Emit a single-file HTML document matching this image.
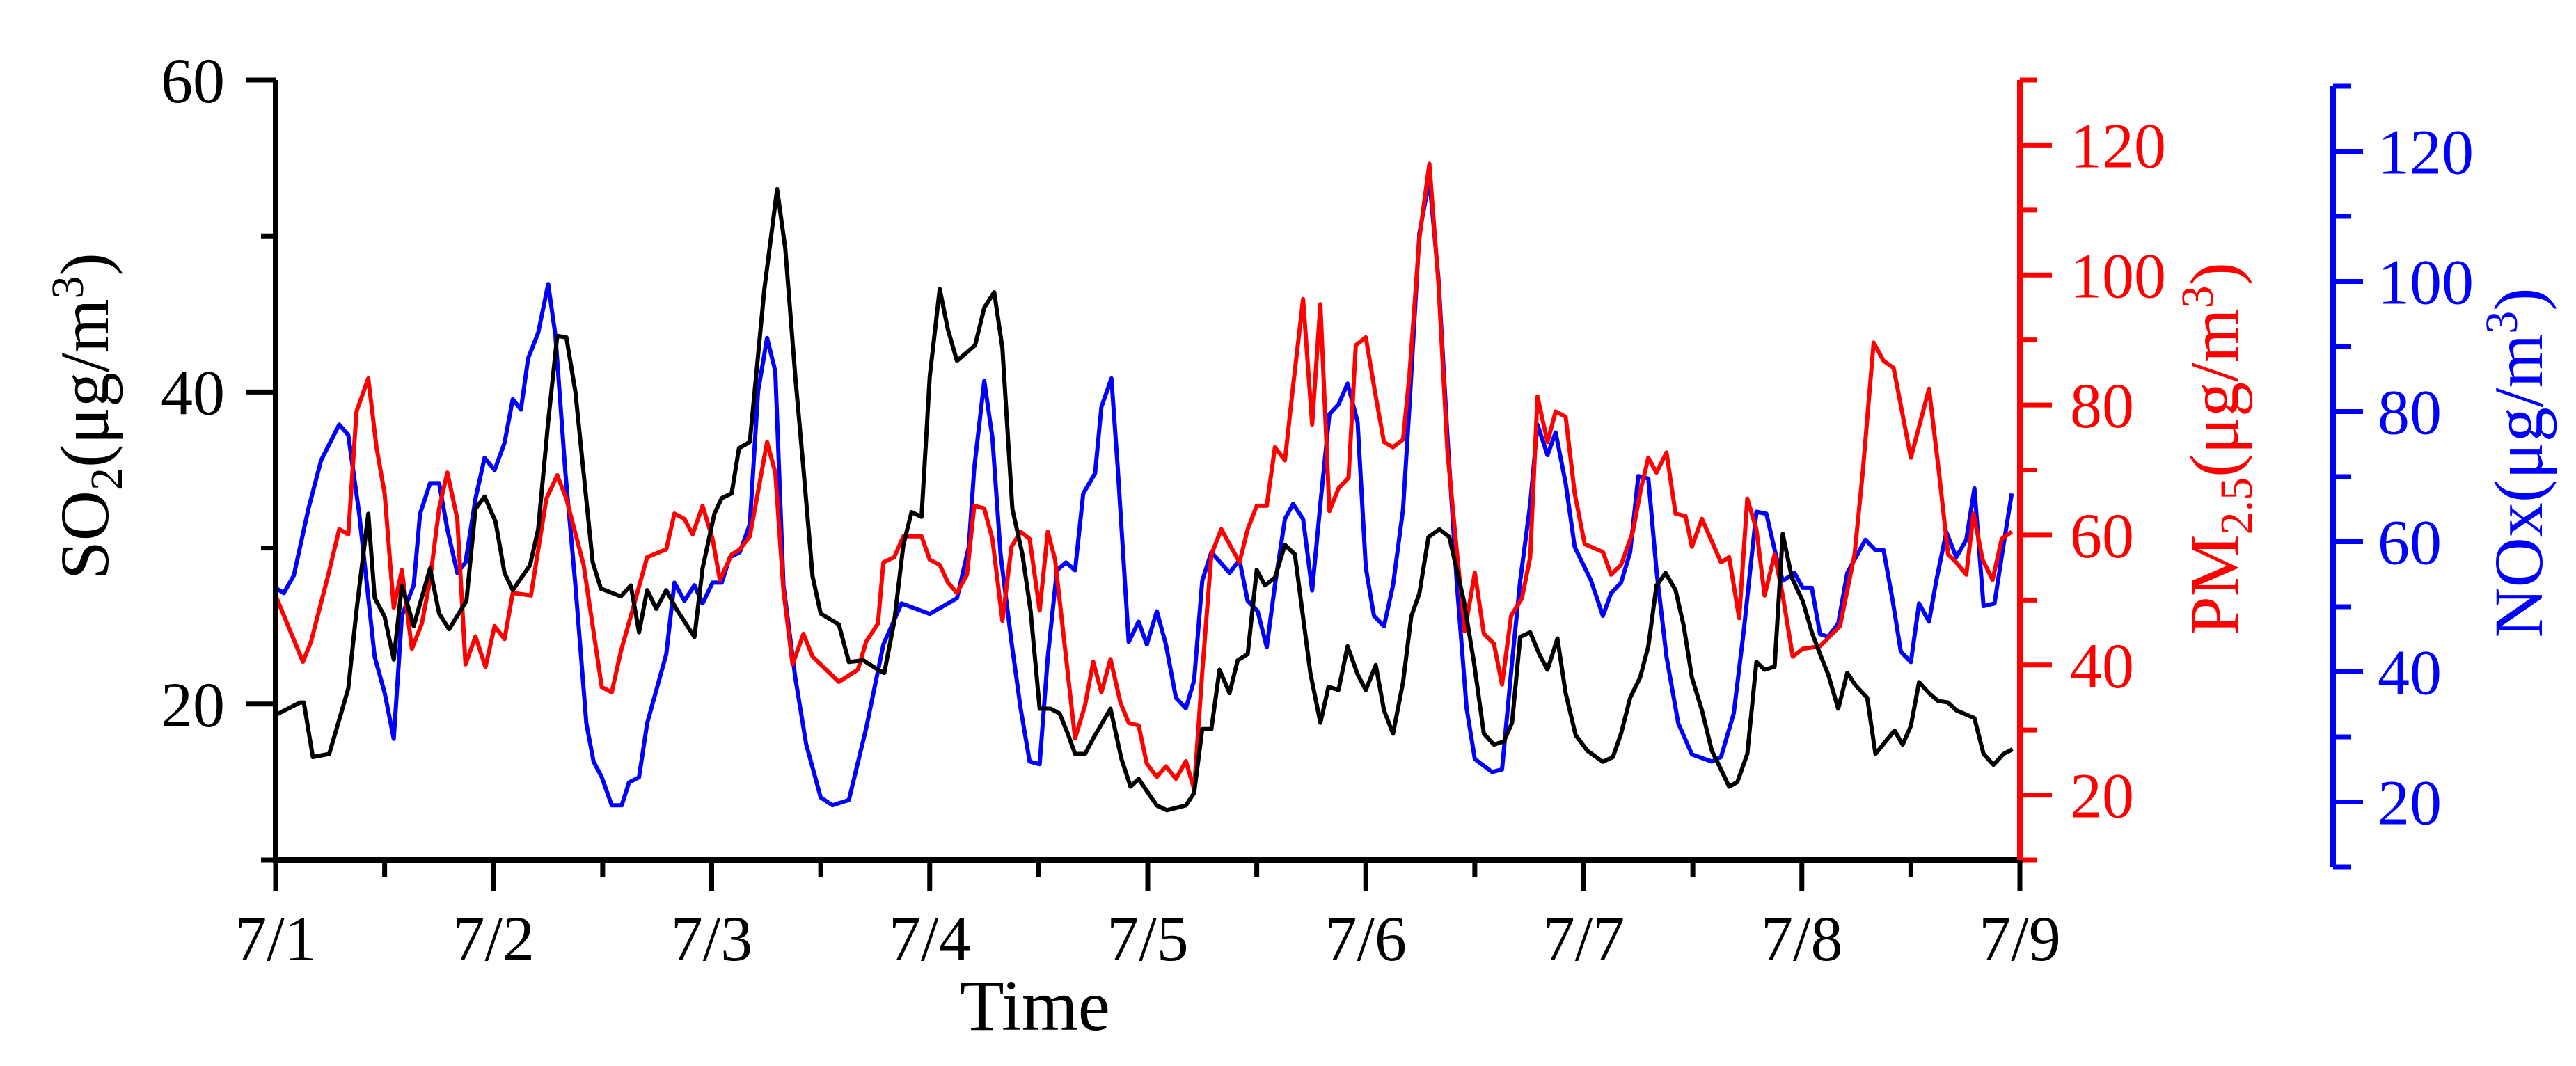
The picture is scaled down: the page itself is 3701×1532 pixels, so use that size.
<!DOCTYPE html>
<html><head><meta charset="utf-8"><style>
html,body{margin:0;padding:0;background:#fff}
svg{display:block}
text{font-family:"Liberation Serif",serif}
</style></head><body>
<svg id="chart" width="3701" height="1532" viewBox="0 0 3701 1532" xmlns="http://www.w3.org/2000/svg">
<rect x="0" y="0" width="3701" height="1532" fill="#fff"/>
<g id="plot"></g>
<g id="axes"></g>
<text transform="translate(155,598) rotate(-90)" text-anchor="middle" font-size="100" fill="#000">SO<tspan font-size="66" dy="20">2</tspan><tspan dy="-20">(μg/m</tspan><tspan font-size="66" dy="-36">3</tspan><tspan dy="36">)</tspan></text>
<text transform="translate(3215,645) rotate(-90)" text-anchor="middle" font-size="100" fill="#ff0000">PM<tspan font-size="66" dy="20">2.5</tspan><tspan dy="-20">(μg/m</tspan><tspan font-size="66" dy="-36">3</tspan><tspan dy="36">)</tspan></text>
<text transform="translate(3652,665) rotate(-90)" text-anchor="middle" font-size="100" fill="#0000ff">NOx(μg/m<tspan font-size="66" dy="-36">3</tspan><tspan dy="36">)</tspan></text>
<text x="1487" y="1480" text-anchor="middle" font-size="104" fill="#000">Time</text>
</svg>
<script>
const dayLabels = ["7/1","7/2","7/3","7/4","7/5","7/6","7/7","7/8","7/9"];
const so2Ticks = [20,40,60];
const pmTicks = [20,40,60,80,100,120];
const noxTicks = [20,40,60,80,100,120];

const so2Hours = [0,2.7,3.1,4.1,5.9,8,8.9,10.2,10.9,12,13,13.9,15.2,17,18,19.1,21,22,23,24.2,25.2,26.1,28,28.9,30,31,32,33,33.9,34.9,35.8,38,39.1,40,40.9,41.9,43,44.1,46.1,47,48.3,49.1,50.2,51,52.2,53.8,55.2,56.1,57.2,58.1,59.1,60,62,63.1,64.7,66.3,67,68.1,69.1,70,71.1,72,73.1,74,75,77,78,79.1,80,81.1,82.2,83.1,84.1,85.3,86.3,87.2,88,89.1,90,91.9,93.1,94.1,95,96.4,97,98.1,100.2,101.1,102,103,103.9,105,105.9,107,108,108.9,110,111.1,112.2,113,113.9,115,115.9,117,118,119.1,120,121.1,122,123,124.1,125,125.9,126.9,128.1,129.2,130.8,131.9,133,134.1,135.2,136.1,137,138.1,139.1,140,141.1,142,143.1,144.4,146.1,147.2,148.1,149.1,150.2,151.1,152,153,154.1,155,155.9,157,158.1,159.1,160,160.9,162,163,163.9,165,165.9,166.9,168.1,169.1,170,170.9,172,173,173.9,175.2,176.1,178.2,179.1,180,180.9,182,183,184.1,185,187,188,189.1,190.2,191.2];
const so2Values = [19.3,20.1,20.1,16.6,16.8,21.0,26.0,32.2,26.8,25.6,22.85,27.6,25.0,28.7,25.8,24.8,26.6,32.5,33.3,31.7,28.4,27.3,28.9,31.2,38.1,43.6,43.5,40.0,34.8,29.1,27.4,26.9,27.6,24.6,27.3,26.1,27.3,26.1,24.3,28.7,32.2,33.2,33.5,36.4,36.8,46.6,53.0,49.2,41.0,35.1,28.2,25.8,25.1,22.7,22.8,22.2,22.0,25.3,30.2,32.3,32.0,41.0,46.6,44.0,42.0,43.0,45.4,46.4,42.8,32.5,29.6,26.0,19.7,19.7,19.4,18.1,16.8,16.8,17.8,19.7,16.5,14.7,15.2,14.0,13.5,13.2,13.5,14.3,18.4,18.4,22.2,20.7,22.8,23.2,28.6,27.6,28.1,30.2,29.6,26.0,22.0,18.8,21.1,20.9,23.7,21.9,20.9,22.5,19.6,18.1,21.4,25.6,27.1,30.7,31.2,30.7,26.6,22.7,18.1,17.4,17.6,18.8,24.3,24.6,23.2,22.2,24.2,20.7,18.0,17.0,16.3,16.6,18.1,20.4,21.7,23.7,27.6,28.4,27.3,25.0,21.7,19.6,17.0,15.8,14.7,15.0,16.8,22.7,22.2,22.4,30.9,28.1,26.6,24.6,23.2,21.9,19.7,22.0,21.2,20.4,16.8,18.3,17.4,18.6,21.4,20.7,20.2,20.1,19.6,19.1,16.8,16.1,16.8,17.1];

const pmHours = [0,3,3.9,5.8,7,8,8.9,10.2,11.1,12,13,13.9,15,16.1,17,18,18.9,20,20.9,22,23.1,24.1,25.2,26.1,28.1,29.8,31,32,33.9,35.9,37,38,39.2,40.9,43,43.9,45,45.9,47,48.1,48.9,50.2,51.1,52.2,54.1,55,55.9,56.9,58.1,59.1,62,64.1,65,66.3,66.9,68.1,69.1,71.1,72,73.1,74,75,76.1,76.9,78,78.9,80,81,82,83,84.1,85,85.8,86.9,88,89.1,90,90.9,91.9,93,93.9,95,95.9,97,98,99.1,100.2,101.1,102,103,104.1,106.1,107,108,109.1,110,111.1,112,113.1,114.1,115,116,117,118.1,118.9,120,121.1,122,123,124.1,124.8,125.9,127,128,129,130,130.9,132,133,134.1,135,136,137.2,138.1,138.9,140,140.9,142,143,144.1,146.1,147,148.1,149.4,150.3,151.1,152,153.1,154.1,155.2,155.9,157,159.1,160,161.1,162,163,163.9,165,165.9,167,168.1,170,172.2,173.8,174.7,175.9,177,178.1,180,182,183.1,184.1,185,186.1,186.9,187.9,189,190,191.1];
const pmValues = [50.7,40.5,43.6,53.9,60.9,60.1,79,84.1,73.5,66.4,48.8,54.6,42.5,46.4,53.1,64.1,69.6,62.5,40.1,44.4,39.7,46.0,44.0,51.1,50.7,65.6,69.2,65.6,55.4,36.6,35.8,42.1,48.0,56.6,57.8,63.3,62.5,60.1,64.5,59.4,53.1,57.0,57.8,59.8,74.3,69.6,51.5,40.1,44.8,41.3,37.4,39.3,43.6,46.4,55.8,56.6,59.8,59.8,56.2,55.4,52.7,51.1,53.9,64.5,64.1,59.4,46.8,58.2,60.5,59.4,48.4,60.5,56.2,42.5,28.7,33.8,40.5,35.8,40.9,34.2,31.1,30.7,24.8,22.8,24.4,22.5,25.2,20.9,38.9,57.0,60.9,55.8,60.9,64.5,64.5,73.5,71.5,82.9,96.3,77.0,95.5,63.7,67.2,68.8,89.2,90.4,81.3,74.3,73.5,74.7,84.5,105.7,117.1,98.6,72.7,57.8,45.2,54.2,44.8,43.3,37.0,47.6,50.3,56.6,81.3,74.3,79.0,78.2,66.4,58.6,57.4,53.9,55.4,60.5,67.2,71.9,69.6,72.7,63.3,62.9,58.2,62.5,55.8,56.6,47.2,65.6,60.9,50.7,57.0,50.7,41.3,42.5,42.9,46.0,57.0,69.6,89.6,86.8,85.7,71.9,82.5,69.6,57.0,55.8,53.9,63.3,56.2,53.1,59.4,60.5];

const noxHours = [0,0.9,2,3.6,5,7,8,9.2,10.9,12,13,13.9,15.2,15.9,17,18,18.9,20,20.9,22,23,24.1,25.2,26.1,27,27.8,28.9,30,30.8,31.9,33,34.2,35,35.9,37,38.1,38.9,40,40.9,43,43.9,45,46.1,47,48.1,49.1,50,51.1,52.2,53.1,54.1,55,55.9,57.2,58.4,60,61.3,63.1,65,66.9,68.9,72,75,76.3,76.9,78,78.9,79.8,81,82,83,84.1,85,86,87,88,88.9,90.2,90.9,92,92.7,93.9,95,95.9,97,98,99.1,100.2,101.1,102,103,105,106.1,107,108.1,109.1,110,111.1,112,113.1,114.1,115,116,117,118,119.1,120,120.9,122,123,124.1,124.8,125.9,127,128,129,130,131.1,132,133.9,135,136.1,137,138.1,138.9,140,140.9,142,143,144.8,146.1,147,148.1,149.1,150,151.1,152,153.1,154.4,155.9,158.1,159.1,160.5,161.6,163,164.1,165.2,165.9,167.2,168.1,169.1,170,170.9,172,173,175,176.1,177,178,178.9,180,180.9,182,182.8,183.9,185,186.1,187,188,189.2,190.2,191.1];
const noxValues = [52.9,52.1,54.8,65.0,72.5,78.0,76.4,64.3,42.3,36.8,29.7,48.6,53.3,64.3,69.0,69.0,61.9,55.2,56.8,66.6,72.9,71.0,75.2,81.9,80.3,88.2,92.1,99.6,91.7,70.5,53.3,32.1,26.2,23.8,19.5,19.5,23.0,23.8,32.1,42.7,53.7,50.9,53.3,50.5,53.7,53.7,57.6,58.4,62.7,83.1,91.3,86.2,53.3,39.1,28.9,20.7,19.5,20.3,31.3,44.2,50.5,48.9,51.3,59.2,71.3,84.7,76.0,58.0,44.6,34.4,26.2,25.8,42.3,55.6,56.8,55.6,67.4,70.5,80.7,85.1,71.3,44.6,47.7,44.2,49.3,44.2,36.0,34.4,38.7,54.0,58.4,55.2,57.2,50.9,49.3,43.8,53.3,63.5,65.8,63.5,52.5,65.8,79.6,81.1,84.3,78.4,56.0,48.6,47.0,53.3,65.0,80.7,107.4,115.7,100.4,76.0,54.0,34.4,26.6,24.6,25.0,41.5,54.0,65.8,78.0,73.3,76.8,69.0,59.2,54.0,48.6,52.1,53.7,58.4,70.1,69.7,55.6,42.3,32.1,27.3,26.2,26.9,33.6,46.2,64.6,64.3,57.6,54.0,55.2,52.9,52.9,45.8,45.4,47.4,55.2,60.3,58.7,58.7,50.9,43.1,41.5,50.5,47.7,54.0,61.5,57.6,60.3,68.2,50.1,50.5,59.5,67.4];

const NS = "http://www.w3.org/2000/svg";
const X0 = 396, DAYPX = 313.25;
function xScale(h){ return X0 + h / 24 * DAYPX; }
function ySO2(v){ return 1236 - (v - 10) / 50 * (1236 - 115); }
function yPM(v){ return 1236 - (v - 10) / 120 * (1236 - 115); }
function yNOx(v){ return 1246 - (v - 10) / 120 * (1246 - 124); }
function mk(tag, attrs, parent){ const e = document.createElementNS(NS, tag); for (const k in attrs) e.setAttribute(k, attrs[k]); parent.appendChild(e); return e; }

const plot = document.getElementById('plot');
const axes = document.getElementById('axes');

function drawSeries(hours, vals, yf, color, name){
  const pts = hours.map((h,i)=> xScale(h).toFixed(1)+','+yf(vals[i]).toFixed(1)).join(' ');
  const pl = mk('polyline', {points: pts, fill:'none', stroke: color, 'stroke-width': 6, 'stroke-linejoin':'round'}, plot);
  
  
}
drawSeries(noxHours, noxValues, yNOx, '#0000ff', 'nox-line');
drawSeries(pmHours, pmValues, yPM, '#ff0000', 'pm25-line');
drawSeries(so2Hours, so2Values, ySO2, '#000000', 'so2-line');

let e;
e = mk('path', {d:'M396,115 L396,1240 M392,1236 L2906,1236', stroke:'#000', 'stroke-width':8, fill:'none'}, axes);


e = mk('line', {x1:2902, y1:115, x2:2902, y2:1236, stroke:'#ff0000', 'stroke-width':8}, axes);


e = mk('line', {x1:3352, y1:124, x2:3352, y2:1246, stroke:'#0000ff', 'stroke-width':8}, axes);



for (let v = 10; v <= 60; v += 10){
  const major = so2Ticks.includes(v);
  const y = ySO2(v);
  e = mk('line', {x1:396, y1:y, x2: major ? 353 : 375, y2:y, stroke:'#000', 'stroke-width':7}, axes);
  
  
}
so2Ticks.forEach(v=>{
  const t = mk('text', {x:323, y:ySO2(v)+32, 'text-anchor':'end', 'font-size':92, fill:'#000'}, axes);
  t.textContent = v;
  
  
});
for (let v = 10; v <= 130; v += 10){
  const major = pmTicks.includes(v);
  const y = yPM(v);
  e = mk('line', {x1:2902, y1:y, x2: major ? 2948 : 2926, y2:y, stroke:'#ff0000', 'stroke-width':7}, axes);
  
  
}
pmTicks.forEach(v=>{
  const t = mk('text', {x:2974, y:yPM(v)+32, 'font-size':92, fill:'#ff0000'}, axes);
  t.textContent = v;
  
  
});
for (let v = 10; v <= 130; v += 10){
  const major = noxTicks.includes(v);
  const y = yNOx(v);
  e = mk('line', {x1:3352, y1:y, x2: major ? 3395 : 3378, y2:y, stroke:'#0000ff', 'stroke-width':7}, axes);
  
  
}
noxTicks.forEach(v=>{
  const t = mk('text', {x:3416, y:yNOx(v)+32, 'font-size':92, fill:'#0000ff'}, axes);
  t.textContent = v;
  
  
});
for (let i = 0; i <= 16; i++){
  const x = xScale(i*12);
  const major = i % 2 === 0;
  e = mk('line', {x1:x, y1:1236, x2:x, y2: major ? 1280 : 1260, stroke:'#000', 'stroke-width':7}, axes);
  
  
}
dayLabels.forEach((d,i)=>{
  const t = mk('text', {x:xScale(i*24), y:1380, 'text-anchor':'middle', 'font-size':92, fill:'#000'}, axes);
  t.textContent = d;
  
  
});
</script>
</body></html>
